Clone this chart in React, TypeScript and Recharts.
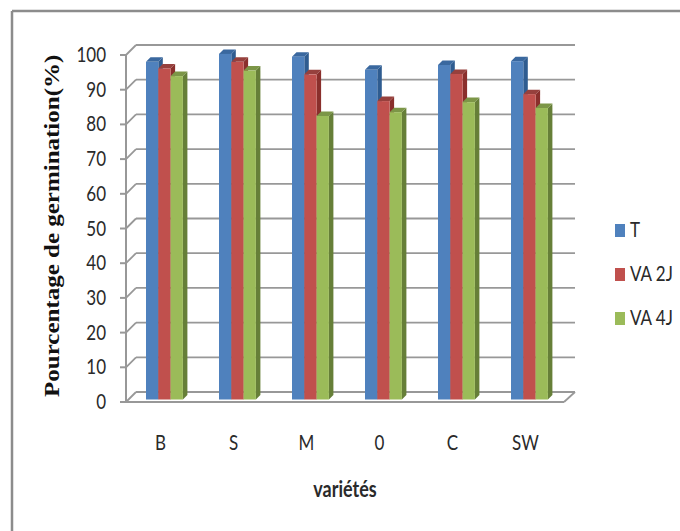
import React from "react";
import { BarChart, Bar, XAxis, YAxis, CartesianGrid } from "recharts";

const categories = ["B", "S", "M", "0", "C", "SW"];
const seriesT = [97.3, 99.6, 98.8, 95, 96.4, 97.5];
const seriesVa2 = [95.4, 97.3, 93.7, 86, 93.8, 88];
const seriesVa4 = [93.2, 94.8, 81.7, 82.8, 85.7, 84];
const yTicks = [0, 10, 20, 30, 40, 50, 60, 70, 80, 90, 100];

const rows = categories.map((name, i) => ({
  name,
  t: seriesT[i],
  va2: seriesVa2[i],
  va4: seriesVa4[i],
}));

const legendItems = [
  { label: "T", color: "#4F81BD" },
  { label: "VA 2J", color: "#C0504D" },
  { label: "VA 4J", color: "#9BBB59" },
];

const AXIS = "#989898";
const FONT = "Lato, 'Open Sans', sans-serif";
const TEXT = "#2a2a2a";
const STRETCH = 1.22; // the reference text is squeezed sideways

const TallText = ({ x, y, anchor, size = 17, weight, children }: any) => (
  <text
    transform={`translate(${x} ${y}) scale(1 ${STRETCH})`}
    textAnchor={anchor}
    fontFamily={FONT}
    fontSize={size}
    fontWeight={weight}
    fill={TEXT}
  >
    {children}
  </text>
);

const xTick = (props: any) => (
  <TallText x={props.x - 2} y={props.y + 40} anchor="middle">
    {props.payload.value}
  </TallText>
);

const yTick = (props: any) => (
  <TallText x={props.x - 12} y={props.y + 7} anchor="end">
    {props.payload.value}
  </TallText>
);

// fake 3D column: front face, top face, right side
const column3d = (side: string, top: string) => (props: any) => {
  const { x, y, width, height, fill } = props;
  const d = 4.5;
  const left = x + 2;
  const right = left + width;
  const up = y - 2.5;
  const down = up + height;
  return (
    <g>
      <polygon
        points={`${right},${up} ${right + d},${up - d} ${right + d},${down - d} ${right},${down}`}
        fill={side}
      />
      <polygon
        points={`${left},${up} ${left + d},${up - d} ${right + d},${up - d} ${right},${up}`}
        fill={top}
      />
      <rect x={left} y={up} width={width} height={height} fill={fill} />
    </g>
  );
};

// gridlines sit on the back wall, joined to the axis by a slanted stroke
const backWallLine = (props: any) => {
  const { x1, x2, y1, index } = props;
  const dx = 10;
  const dy = 10;
  return (
    <g key={`wall-${index}`} stroke={AXIS} strokeWidth={1.8} fill="none">
      <line x1={x1 + dx} y1={y1 - dy} x2={x2 + dx + 1} y2={y1 - dy} />
      <line x1={x1} y1={y1} x2={x1 + dx} y2={y1 - dy} />
      {y1 > 390 && <line x1={x2} y1={y1} x2={x2 + dx + 1} y2={y1 - dy} />}
    </g>
  );
};

export default function App() {
  return (
    <div style={{ position: "absolute", left: 0, top: 0, width: 680, height: 531, background: "#fff" }}>
      <BarChart
        width={680}
        height={531}
        data={rows}
        barSize={12.3}
        barGap={0}
        margin={{ top: 55, right: 116, bottom: 89, left: 66 }}
      >
        <line x1={12} y1={11} x2={680} y2={11} stroke="#8c8c8c" strokeWidth={2.5} />
        <line x1={12} y1={11} x2={12} y2={531} stroke="#8c8c8c" strokeWidth={2.5} />
        <CartesianGrid vertical={false} horizontal={backWallLine} />
        <XAxis
          dataKey="name"
          height={40}
          axisLine={{ stroke: AXIS, strokeWidth: 2 }}
          tickLine={false}
          tickSize={6}
          interval={0}
          tick={xTick}
        />
        <YAxis
          width={60}
          domain={[0, 100]}
          ticks={yTicks}
          interval={0}
          axisLine={{ stroke: AXIS, strokeWidth: 2 }}
          tickLine={{ stroke: AXIS, strokeWidth: 2 }}
          tickSize={6}
          tick={yTick}
        />
        <Bar dataKey="t" fill="#4F81BD" isAnimationActive={false} shape={column3d("#2F5C90", "#3A689F")} />
        <Bar dataKey="va2" fill="#C0504D" isAnimationActive={false} shape={column3d("#8A2F2C", "#96403D")} />
        <Bar dataKey="va4" fill="#9BBB59" isAnimationActive={false} shape={column3d("#667F38", "#7C9647")} />
        <text
          transform="translate(59 397) rotate(-90) scale(1.25 1)"
          fontFamily="'Liberation Serif', serif"
          fontWeight="bold"
          fontSize={20}
          fill="#111"
        >
          Pourcentage de germination(%)
        </text>
        <TallText x={345} y={497} anchor="middle" size={18} weight="bold">
          variétés
        </TallText>
        {legendItems.map((item, i) => (
          <g key={item.label}>
            <rect x={615} y={224 + i * 44} width={10} height={13} fill={item.color} />
            <TallText x={630} y={237 + i * 44} anchor="start">
              {item.label}
            </TallText>
          </g>
        ))}
      </BarChart>
    </div>
  );
}
